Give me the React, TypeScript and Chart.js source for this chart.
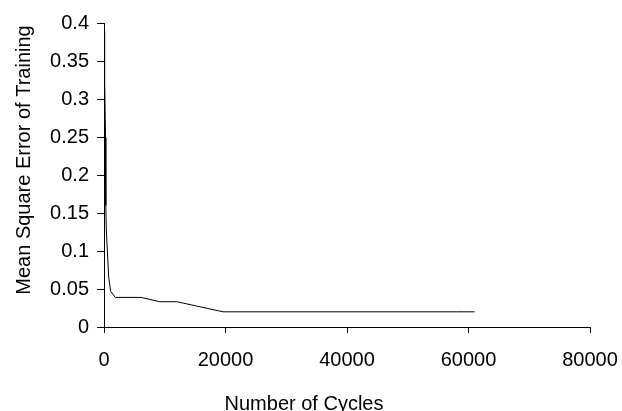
import React, { useEffect, useRef } from "react";
import { Chart, registerables } from "chart.js";

Chart.register(...registerables);

const cycles = [0, 100, 250, 300, 380, 770, 1100, 1860, 6100, 9200, 12000, 19600, 58000, 61000];
const mse = [0.39, 0.33, 0.25, 0.16, 0.128, 0.066, 0.047, 0.039, 0.039, 0.0333, 0.0333, 0.02, 0.02, 0.02];

const xTitle = "Number of Cycles";
const yTitle = "Mean Square Error of Training";

const FONT = '"Liberation Sans", Arial, sans-serif';

const titlesPlugin = {
  id: "customTitles",
  afterDraw(chart: any) {
    const ctx = chart.ctx as CanvasRenderingContext2D;
    ctx.save();
    ctx.fillStyle = "#000";
    ctx.font = `20px ${FONT}`;
    ctx.textAlign = "center";
    ctx.textBaseline = "alphabetic";
    ctx.fillText(xTitle, 304, 409.5);
    ctx.translate(30, 160);
    ctx.rotate(-Math.PI / 2);
    ctx.fillText(yTitle, 0, 0);
    ctx.restore();
  },
};

export default function App() {
  const ref = useRef<HTMLCanvasElement | null>(null);
  useEffect(() => {
    if (!ref.current) return;
    const chart = new Chart(ref.current, {
      type: "line",
      data: {
        datasets: [
          {
            data: cycles.map((c, i) => ({ x: c, y: mse[i] })),
            borderColor: "#000",
            borderWidth: 1,
            pointRadius: 0,
            tension: 0,
            fill: false,
          },
        ],
      },
      options: {
        animation: false,
        responsive: false,
        layout: { padding: { top: 23.5, right: 32, bottom: 0, left: 0 } },
        plugins: { legend: { display: false }, tooltip: { enabled: false }, title: { display: false } },
        scales: {
          x: {
            type: "linear",
            min: 0,
            max: 80000,
            afterFit: (s: any) => {
              s.height = 84;
              s.paddingLeft = 0;
              s.paddingRight = 0;
            },
            ticks: {
              stepSize: 20000,
              color: "#000",
              font: { family: FONT, size: 20 },
              padding: 15,
              maxRotation: 0,
              callback: (v: any) => String(v),
            },
            grid: { drawOnChartArea: false, drawTicks: true, tickLength: 6, color: "#000" },
            border: { display: true, color: "#000", width: 1 },
          },
          y: {
            min: 0,
            max: 0.4,
            afterFit: (s: any) => {
              s.width = 104;
            },
            ticks: {
              stepSize: 0.05,
              color: "#000",
              font: { family: FONT, size: 20 },
              padding: 8,
              callback: (v: any) => String(Number(Number(v).toFixed(2))),
            },
            grid: { drawOnChartArea: false, drawTicks: true, tickLength: 7, color: "#000" },
            border: { display: true, color: "#000", width: 1 },
          },
        },
      },
      plugins: [titlesPlugin],
    });
    return () => chart.destroy();
  }, []);
  return (
    <div style={{ position: "fixed", left: 0, top: 0, width: 622, height: 411, background: "#fff" }}>
      <canvas ref={ref} width={622} height={411} style={{ display: "block" }} />
    </div>
  );
}
